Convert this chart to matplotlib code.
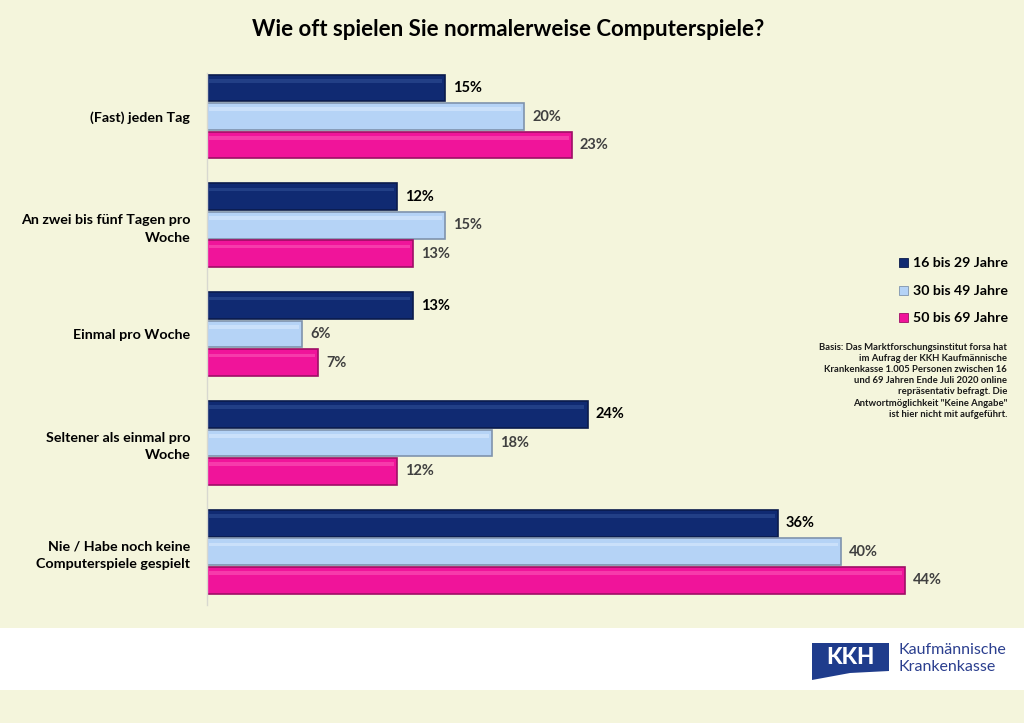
import matplotlib
matplotlib.use("Agg")
import matplotlib.pyplot as plt
from matplotlib.patches import Rectangle, Polygon
import numpy as np

plt.rcParams['font.family'] = ['Lato', 'DejaVu Sans']

title = "Wie oft spielen Sie normalerweise Computerspiele?"
categories = ["(Fast) jeden Tag", "An zwei bis fünf Tagen pro\nWoche", "Einmal pro Woche",
              "Seltener als einmal pro\nWoche", "Nie / Habe noch keine\nComputerspiele gespielt"]
series_names = ["16 bis 29 Jahre", "30 bis 49 Jahre", "50 bis 69 Jahre"]
v_16_29 = [15, 12, 13, 24, 36]
v_30_49 = [20, 15, 6, 18, 40]
v_50_69 = [23, 13, 7, 12, 44]
basis = ('Basis: Das Marktforschungsinstitut forsa hat\nim Aufrag der KKH Kaufmännische\n'
         'Krankenkasse 1.005 Personen zwischen 16\nund 69 Jahren Ende Juli 2020 online\n'
         'repräsentativ befragt. Die\nAntwortmöglichkeit "Keine Angabe"\nist hier nicht mit aufgeführt.')

bg = '#F4F5DC'
colors = ['#102A72', '#B5D3F6', '#F0149A']
edges = ['#0A1B4C', '#7F93AD', '#9E0E66']
highlights = ['#3A5AA0', '#E4F0FF', '#FF6CC0']
label_colors = ['#000000', '#404040', '#404040']

W, H = 1024, 723
fig = plt.figure(figsize=(W/100, H/100), dpi=100, facecolor=bg)

# white footer band
fig.patches.append(Rectangle((0, 1-690/H), 1, (690-628)/H, transform=fig.transFigure,
                             facecolor='white', edgecolor='none', zorder=0))

ax_l, ax_r, ax_t, ax_b = 207, 973, 73, 605
ax = fig.add_axes([ax_l/W, 1-ax_b/H, (ax_r-ax_l)/W, (ax_b-ax_t)/H])
ax.set_facecolor('none')
pxu = 15.86
ax.set_xlim(0, (ax_r-ax_l)/pxu)
ax.set_ylim(4.49, -0.40)

y = np.arange(len(categories))
off = 0.262
h = 0.245
series = [v_16_29, v_30_49, v_50_69]
for i, vals in enumerate(series):
    yy = y + (i-1)*off
    ax.barh(yy, vals, height=h, color=colors[i], edgecolor=edges[i], linewidth=1.2, zorder=2)
    # bevel highlight strip
    ax.barh(yy - h*0.27, np.array(vals)-0.35, left=0.15, height=h*0.14, color=highlights[i],
            edgecolor='none', alpha=0.45, zorder=3)
    for yv, v in zip(yy, vals):
        ax.text(v + 0.5, yv, f"{v}%", va='center', ha='left', fontsize=10.5, fontweight='bold',
                color=label_colors[i])

ax.set_yticks(y)
ax.set_yticklabels(categories, fontsize=10.3, fontweight='bold', ha='right', linespacing=1.55)
ax.tick_params(axis='y', length=0, pad=12)
ax.set_xticks([])
for s in ['top', 'right', 'bottom']:
    ax.spines[s].set_visible(False)
ax.spines['left'].set_color('#D8D8D0')
ax.spines['left'].set_linewidth(1)

fig.text(508/W, 1-30/H, title, ha='center', va='center', fontsize=16, fontweight='bold', color='black')

# legend
leg_y = [263, 291, 318]
for i, name in enumerate(series_names):
    fig.patches.append(Rectangle((899/W, 1-(leg_y[i]+4)/H), 9/W, 9/H, transform=fig.transFigure,
                                 facecolor=colors[i], edgecolor=edges[i], linewidth=0.6))
    fig.text(913/W, 1-leg_y[i]/H, name, ha='left', va='center', fontsize=10.2, fontweight='bold')

fig.text(1007/W, 1-343/H, basis, ha='right', va='top', fontsize=6.8, fontweight='bold',
         color='#1A1A1A', linespacing=1.3)

# logo
logo_blue = '#1F3C8C'
fig.patches.append(Polygon([(812/W, 1-643/H), (889/W, 1-643/H), (889/W, 1-671/H),
                            (850/W, 1-673/H), (812/W, 1-680/H)], closed=True,
                           transform=fig.transFigure, facecolor=logo_blue, edgecolor='none'))
fig.text(850/W, 1-658/H, "KKH", ha='center', va='center', fontsize=16, fontweight='black',
         color='white')
fig.text(899/W, 1-650/H, "Kaufmännische", ha='left', va='center', fontsize=11.5, color='#2B3F8F')
fig.text(899/W, 1-667/H, "Krankenkasse", ha='left', va='center', fontsize=11.5, color='#2B3F8F')

fig.savefig('out.png', dpi=100, facecolor=bg)
